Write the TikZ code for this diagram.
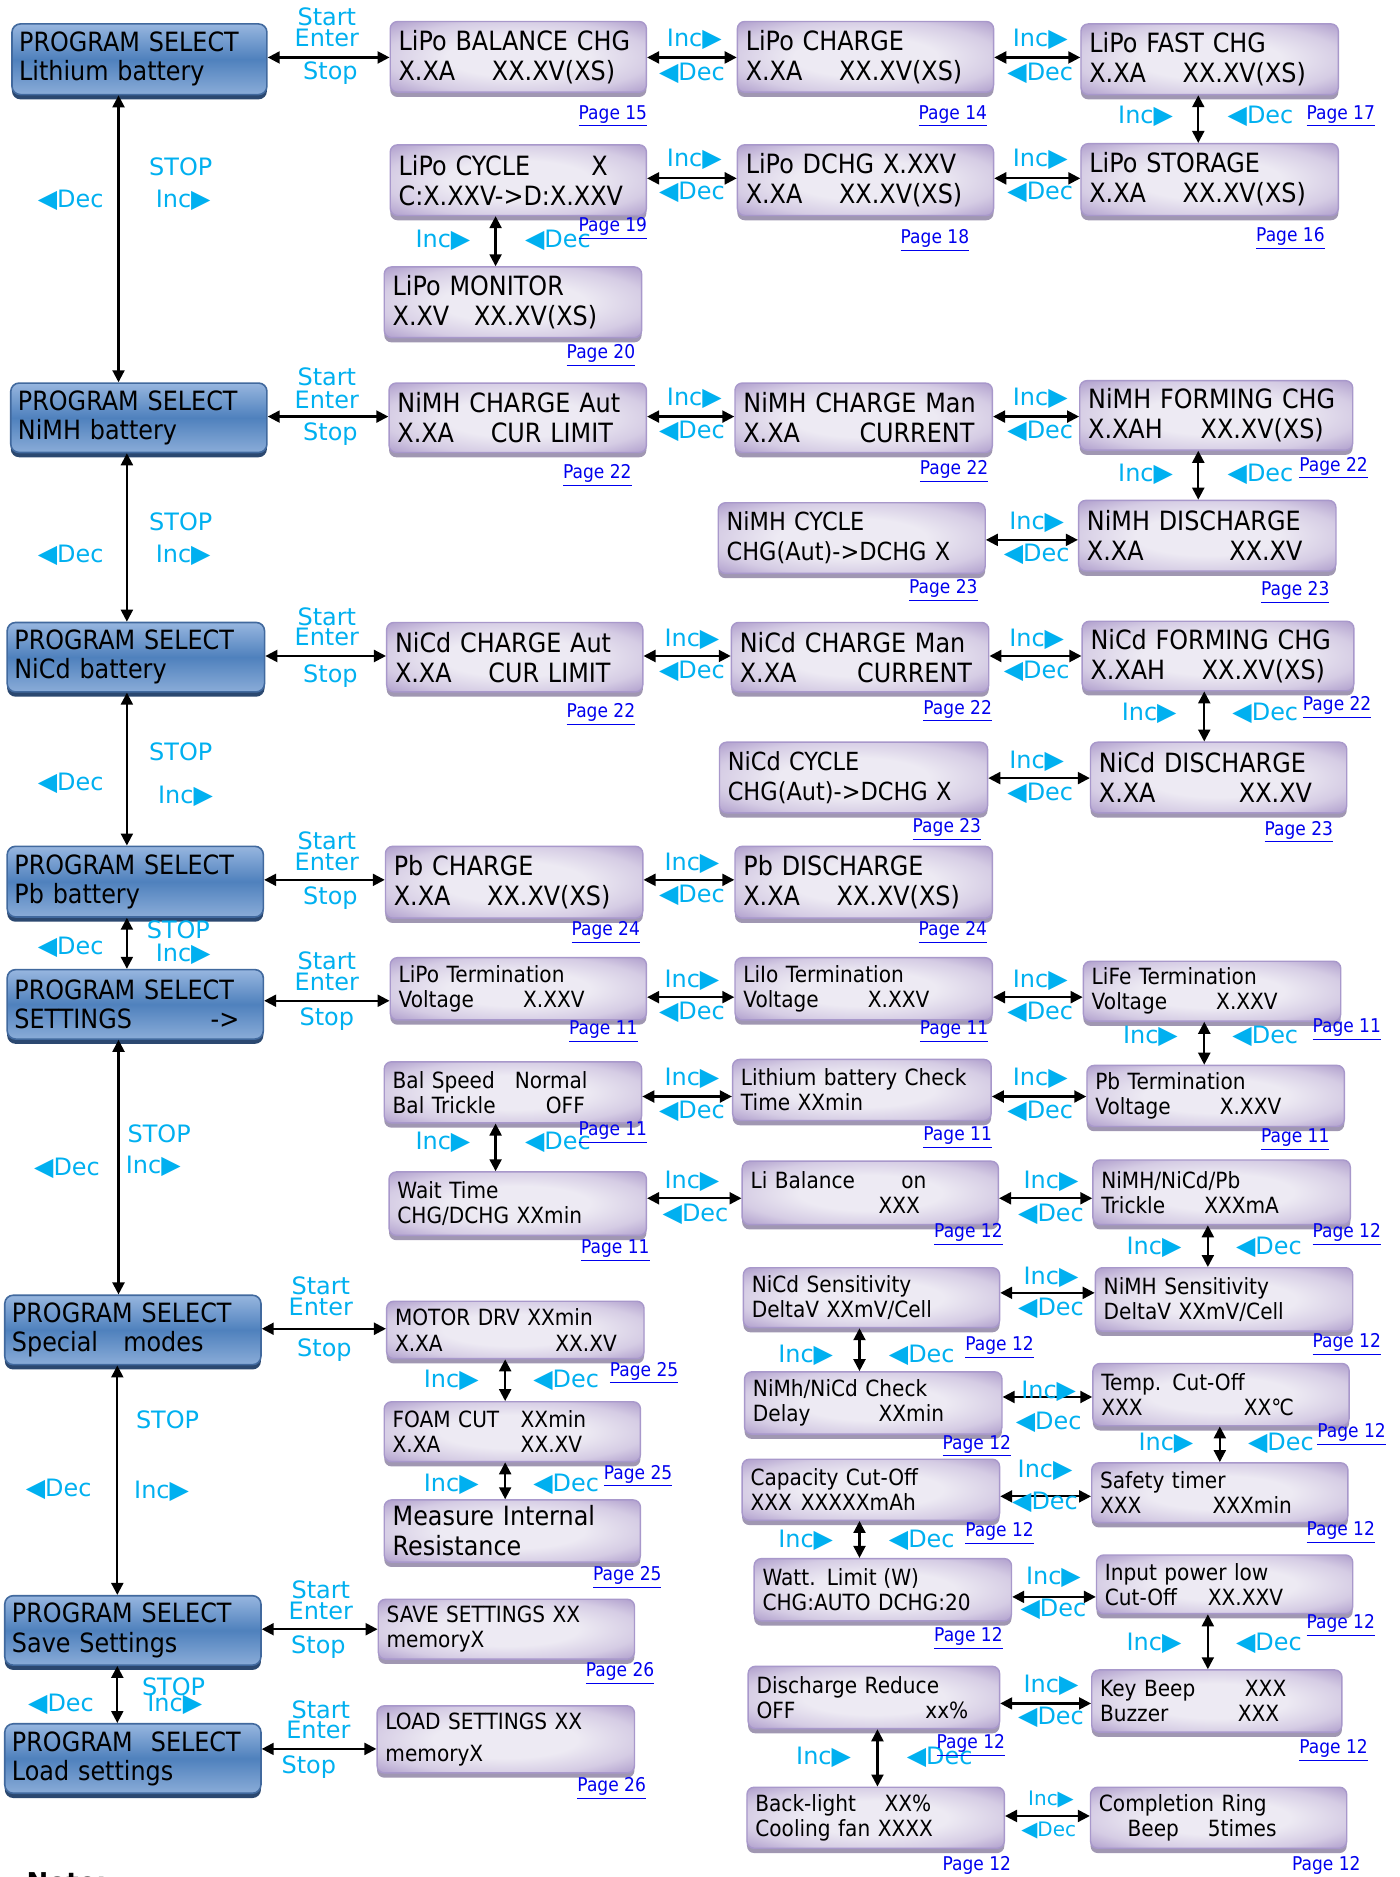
\documentclass[tikz,border=0pt]{standalone}
\usepackage{fontspec}
\setmainfont{DejaVu Sans}
\newfontfamily\boxfont{DejaVu Sans}[FakeStretch=0.9]
\usetikzlibrary{arrows.meta,shadows}

\definecolor{cyanl}{HTML}{00B0F0}
\definecolor{plink}{HTML}{0000EE}
\definecolor{pl}{HTML}{EDEAF3}
\definecolor{pm}{HTML}{D5CCE4}
\definecolor{pd}{HTML}{A592C6}
\definecolor{pborder}{HTML}{A898CB}
\definecolor{pshadow}{HTML}{A097B2}
\definecolor{btop}{HTML}{97B6DF}
\definecolor{bmid}{HTML}{4F81BD}
\definecolor{bbot}{HTML}{8AACD8}
\definecolor{bborder}{HTML}{41699E}
\definecolor{bshadow}{HTML}{2B4870}

\pgfdeclareradialshading{pshade}{\pgfpoint{0bp}{0bp}}{color(0bp)=(pl); color(14bp)=(pl); color(26bp)=(pm); color(38bp)=(pd); color(50bp)=(pd)}

\newdimen\pxu \pxu=0.6pt
\newcommand\cl[2]{\makebox[#1\pxu][l]{#2}}
\newcommand\rtri{\scalebox{1.05}{▶}}
\newcommand\ltri{\scalebox{1.05}{◀}}
\newcommand\INC{Inc\rtri}
\newcommand\DEC{\ltri Dec}

\tikzset{
  pbox/.style={shade, shading=pshade, draw=pborder, line width=0.7pt, rounded corners=3.6pt,
    inner xsep=4.2pt, inner ysep=0pt, align=left,
    font=\boxfont\fontsize{13.3}{15}\selectfont,
    drop shadow={shadow xshift=0pt, shadow yshift=-2.4pt, fill=pshadow, opacity=1}},
  psmall/.style={font=\boxfont\fontsize{11.2}{12.6}\selectfont},
  pcyc/.style={font=\boxfont\fontsize{12.5}{15}\selectfont},
  bbox/.style={top color=btop, bottom color=bbot, middle color=bmid, draw=bborder, line width=0.8pt,
    rounded corners=4.2pt, inner xsep=3.6pt, inner ysep=0pt, align=left,
    font=\boxfont\fontsize{13.3}{14.6}\selectfont,
    drop shadow={shadow xshift=0pt, shadow yshift=-2.4pt, fill=bshadow, opacity=1}},
  lbl/.style={text=cyanl, font=\fontsize{12}{12}\selectfont, inner sep=0pt},
  lbls/.style={text=cyanl, font=\fontsize{10}{10}\selectfont, inner sep=0pt},
  pglink/.style={text=plink, font=\boxfont\fontsize{9.5}{10}\selectfont, inner sep=0pt},
  dbl/.style={{Triangle[length=6pt,width=6pt]}-{Triangle[length=6pt,width=6pt]}, line width=1.1pt, black},
}

% purple box: name, x1, y1, x2, y2 (y2 includes shadow strip)
\newcommand\pbx[7][]{%
  \pgfmathsetlengthmacro\bw{(#5-#3)*0.6pt}%
  \pgfmathsetlengthmacro\bh{(#6-#4-4)*0.6pt}%
  \pgfmathsetlengthmacro\tw{(#5-#3)*0.6pt-8.4pt}%
  \node[pbox,#1,minimum width=\bw,minimum height=\bh,text width=\tw] (#2) at ({(#3+#5)/2},{(#4+#6-4)/2}) {#7};}
\newcommand\bbx[6]{%
  \pgfmathsetlengthmacro\bw{(#4-#2)*0.6pt}%
  \pgfmathsetlengthmacro\bh{(#5-#3-4)*0.6pt}%
  \pgfmathsetlengthmacro\tw{(#4-#2)*0.6pt-7.2pt}%
  \node[bbox,minimum width=\bw,minimum height=\bh,text width=\tw] (#1) at ({(#2+#4)/2},{(#3+#5-4)/2}) {#6};}
\newcounter{lbc}
\newcommand\lb[4][lbl]{\stepcounter{lbc}\node[#1] (lb\arabic{lbc}) at (#2,#3) {#4};}
\newcommand\pg[3]{\stepcounter{lbc}\node[pglink] (pg\arabic{lbc}) at (#1,#2) {\underline{Page #3}};}

\begin{document}
\begin{tikzpicture}[x=0.6pt,y=-0.6pt]
\path[use as bounding box, fill=white] (0,0) rectangle (1169,1568);

% ---------- blue program select boxes
\bbx{b1}{10}{20}{223}{83}{PROGRAM SELECT\\Lithium battery}
\bbx{b2}{9}{320}{223}{382}{PROGRAM SELECT\\NiMH battery}
\bbx{b3}{6}{520}{221}{582}{PROGRAM SELECT\\NiCd battery}
\bbx{b4}{6}{707}{220}{770}{PROGRAM SELECT\\Pb battery}
\bbx{b5}{6}{810}{220}{872}{PROGRAM SELECT\\\cl{164}{SETTINGS}->}
\bbx{b6}{4}{1082}{218}{1144}{PROGRAM SELECT\\\cl{93}{Special}modes}
\bbx{b7}{4}{1333}{218}{1395}{PROGRAM SELECT\\Save Settings}
\bbx{b8}{4}{1440}{218}{1502}{\cl{116}{PROGRAM}SELECT\\Load settings}

% ---------- lithium
\pbx{p1}{326}{18}{540}{81}{LiPo BALANCE CHG\\\cl{78}{X.XA}XX.XV(XS)}
\pbx{p2}{616}{18}{830}{81}{LiPo CHARGE\\\cl{78}{X.XA}XX.XV(XS)}
\pbx{p3}{903}{20}{1118}{83}{LiPo FAST CHG\\\cl{78}{X.XA}XX.XV(XS)}
\pbx{p4}{326}{121}{540}{184}{\cl{161}{LiPo CYCLE}X\\C:X.XXV->D:X.XXV}
\pbx{p5}{616}{121}{830}{184}{LiPo DCHG X.XXV\\\cl{78}{X.XA}XX.XV(XS)}
\pbx{p6}{903}{120}{1118}{184}{LiPo STORAGE\\\cl{78}{X.XA}XX.XV(XS)}
\pbx{p7}{321}{223}{536}{286}{LiPo MONITOR\\\cl{68}{X.XV}XX.XV(XS)}
% ---------- NiMH
\pbx{p8}{325}{320}{540}{382}{NiMH CHARGE Aut\\\cl{78}{X.XA}CUR LIMIT}
\pbx{p9}{614}{320}{829}{382}{NiMH CHARGE Man\\\cl{97}{X.XA}CURRENT}
\pbx{p10}{902}{318}{1130}{380}{NiMH FORMING CHG\\\cl{94}{X.XAH}XX.XV(XS)}
\pbx{p11}{901}{418}{1116}{481}{NiMH DISCHARGE\\\cl{119}{X.XA}XX.XV}
\pbx[pcyc]{p12}{600}{420}{823}{483}{NiMH CYCLE\\CHG(Aut)->DCHG X}
% ---------- NiCd
\pbx{p13}{323}{520}{537}{582}{NiCd CHARGE Aut\\\cl{78}{X.XA}CUR LIMIT}
\pbx{p14}{611}{520}{826}{582}{NiCd CHARGE Man\\\cl{98}{X.XA}CURRENT}
\pbx{p15}{904}{519}{1131}{581}{NiCd FORMING CHG\\\cl{93}{X.XAH}XX.XV(XS)}
\pbx{p16}{911}{620}{1125}{683}{NiCd DISCHARGE\\\cl{117}{X.XA}XX.XV}
\pbx[pcyc]{p17}{601}{620}{825}{683}{NiCd CYCLE\\CHG(Aut)->DCHG X}
% ---------- Pb
\pbx{p18}{322}{707}{537}{771}{Pb CHARGE\\\cl{78}{X.XA}XX.XV(XS)}
\pbx{p19}{614}{707}{829}{771}{Pb DISCHARGE\\\cl{78}{X.XA}XX.XV(XS)}
% ---------- settings
\pbx[psmall]{p20}{326}{800}{540}{856}{LiPo Termination\\\cl{104}{Voltage}X.XXV}
\pbx[psmall]{p21}{614}{800}{829}{856}{LiIo Termination\\\cl{104}{Voltage}X.XXV}
\pbx[psmall]{p22}{905}{803}{1120}{857}{LiFe Termination\\\cl{104}{Voltage}X.XXV}
\pbx[psmall]{p23}{908}{890}{1123}{945}{Pb Termination\\\cl{104}{Voltage}X.XXV}
\pbx[psmall]{p24}{612}{885}{828}{940}{Lithium battery Check\\Time XXmin}
\pbx[psmall]{p25}{321}{887}{536}{942}{\cl{102}{Bal Speed}Normal\\\cl{128}{Bal Trickle}OFF}
\pbx[psmall]{p26}{325}{979}{540}{1036}{Wait Time\\CHG/DCHG XXmin}
\pbx[psmall]{p27}{620}{970}{834}{1027}{\cl{126}{Li Balance}on\\\hspace*{107\pxu}XXX}
\pbx[psmall]{p28}{913}{969}{1128}{1027}{NiMH/NiCd/Pb\\\cl{86}{Trickle}XXXmA}
\pbx[psmall]{p29}{915}{1059}{1130}{1116}{NiMH Sensitivity\\DeltaV XXmV/Cell}
\pbx[psmall]{p30}{621}{1059}{835}{1113}{NiCd Sensitivity\\DeltaV XXmV/Cell}
\pbx[psmall]{p31}{622}{1146}{837}{1202}{NiMh/NiCd Check\\\cl{105}{Delay}XXmin}
\pbx[psmall]{p32}{913}{1139}{1127}{1195}{Temp. Cut-Off\\\cl{119}{XXX}XX℃}
\pbx[psmall]{p33}{912}{1222}{1126}{1276}{Safety timer\\\cl{94}{XXX}XXXmin}
\pbx[psmall]{p34}{620}{1219}{835}{1274}{Capacity Cut-Off\\\cl{42}{XXX}XXXXXmAh}
\pbx[psmall]{p35}{630}{1302}{845}{1358}{\cl{101}{Watt. Limit}(W)\\CHG:AUTO DCHG:20}
\pbx[psmall]{p36}{916}{1299}{1130}{1352}{Input power low\\\cl{86}{Cut-Off}XX.XXV}
\pbx[psmall]{p37}{912}{1395}{1121}{1451}{\cl{121}{Key Beep}XXX\\\cl{115}{Buzzer}XXX}
\pbx[psmall]{p38}{625}{1392}{835}{1448}{Discharge Reduce\\\cl{141}{OFF}xx\%}
\pbx[psmall]{p39}{624}{1493}{839}{1548}{\cl{108}{Back-light}XX\%\\Cooling fan XXXX}
\pbx[psmall]{p40}{911}{1493}{1125}{1548}{Completion Ring\\\hspace*{24\pxu}\cl{67}{Beep}5times}
% ---------- special / save / load
\pbx[psmall]{p41}{323}{1087}{538}{1139}{MOTOR DRV XXmin\\\cl{134}{X.XA}XX.XV}
\pbx[psmall]{p42}{321}{1171}{535}{1225}{\cl{107}{FOAM CUT}XXmin\\\cl{107}{X.XA}XX.XV}
\pbx{p43}{321}{1253}{535}{1309}{Measure Internal\\Resistance}
\pbx[psmall]{p44}{316}{1336}{530}{1390}{SAVE SETTINGS XX\\memoryX}
\pbx[psmall]{p45}{315}{1425}{530}{1485}{LOAD SETTINGS XX\\[3.6pt]memoryX}

\node[anchor=north west, inner sep=0pt, font=\bfseries\fontsize{13}{13}\selectfont] (note) at (22,1564) {Note:};

% ---------- connectors
\draw[dbl] (b1.east |- 0,48) -- (p1.west |- 0,48);
\draw[dbl] (p1.east |- 0,48) -- (p2.west |- 0,48);
\draw[dbl] (p2.east |- 0,48) -- (p3.west |- 0,48);
\draw[dbl] (p3.south -| 1001,0) -- (p6.north -| 1001,0);
\draw[dbl] (p6.west |- 0,149) -- (p5.east |- 0,149);
\draw[dbl] (p5.west |- 0,149) -- (p4.east |- 0,149);
\draw[dbl] (p4.south -| 414,0) -- (p7.north -| 414,0);
\draw[dbl] (b1.south -| 99,0) -- (b2.north -| 99,0);

\draw[dbl] (b2.east |- 0,348) -- (p8.west |- 0,348);
\draw[dbl] (p8.east |- 0,348) -- (p9.west |- 0,348);
\draw[dbl] (p9.east |- 0,348) -- (p10.west |- 0,348);
\draw[dbl] (p10.south -| 1001,0) -- (p11.north -| 1001,0);
\draw[dbl] (p11.west |- 0,451) -- (p12.east |- 0,451);
\draw[dbl] (b2.south -| 106,0) -- (b3.north -| 106,0);

\draw[dbl] (b3.east |- 0,548) -- (p13.west |- 0,548);
\draw[dbl] (p13.east |- 0,548) -- (p14.west |- 0,548);
\draw[dbl] (p14.east |- 0,548) -- (p15.west |- 0,548);
\draw[dbl] (p15.south -| 1006,0) -- (p16.north -| 1006,0);
\draw[dbl] (p16.west |- 0,650) -- (p17.east |- 0,650);
\draw[dbl] (b3.south -| 106,0) -- (b4.north -| 106,0);

\draw[dbl] (b4.east |- 0,735) -- (p18.west |- 0,735);
\draw[dbl] (p18.east |- 0,735) -- (p19.west |- 0,735);
\draw[dbl] (b4.south -| 106,0) -- (b5.north -| 106,0);

\draw[dbl] (b5.east |- 0,836) -- (p20.west |- 0,836);
\draw[dbl] (p20.east |- 0,833) -- (p21.west |- 0,833);
\draw[dbl] (p21.east |- 0,833) -- (p22.west |- 0,833);
\draw[dbl] (p22.south -| 1006,0) -- (p23.north -| 1006,0);
\draw[dbl] (p23.west |- 0,916) -- (p24.east |- 0,916);
\draw[dbl] (p24.west |- 0,916) -- (p25.east |- 0,916);
\draw[dbl] (p25.south -| 414,0) -- (p26.north -| 414,0);
\draw[dbl] (p26.east |- 0,1001) -- (p27.west |- 0,1001);
\draw[dbl] (p27.east |- 0,1001) -- (p28.west |- 0,1001);
\draw[dbl] (p28.south -| 1009,0) -- (p29.north -| 1009,0);
\draw[dbl] (p29.west |- 0,1080) -- (p30.east |- 0,1080);
\draw[dbl] (p30.south -| 718,0) -- (p31.north -| 718,0);
\draw[dbl] (p31.east |- 0,1167) -- (p32.west |- 0,1167);
\draw[dbl] (p32.south -| 1019,0) -- (p33.north -| 1019,0);
\draw[dbl] (p33.west |- 0,1250) -- (p34.east |- 0,1250);
\draw[dbl] (p34.south -| 718,0) -- (p35.north -| 718,0);
\draw[dbl] (p35.east |- 0,1334) -- (p36.west |- 0,1334);
\draw[dbl] (p36.south -| 1009,0) -- (p37.north -| 1009,0);
\draw[dbl] (p37.west |- 0,1423) -- (p38.east |- 0,1423);
\draw[dbl] (p38.south -| 733,0) -- (p39.north -| 733,0);
\draw[dbl] (p39.east |- 0,1517) -- (p40.west |- 0,1517);
\draw[dbl] (b5.south -| 99,0) -- (b6.north -| 99,0);

\draw[dbl] (b6.east |- 0,1110) -- (p41.west |- 0,1110);
\draw[dbl] (p41.south -| 422,0) -- (p42.north -| 422,0);
\draw[dbl] (p42.south -| 422,0) -- (p43.north -| 422,0);
\draw[dbl] (b6.south -| 98,0) -- (b7.north -| 98,0);
\draw[dbl] (b7.east |- 0,1361) -- (p44.west |- 0,1361);
\draw[dbl] (b7.south -| 98,0) -- (b8.north -| 98,0);
\draw[dbl] (b8.east |- 0,1461) -- (p45.west |- 0,1461);

% ---------- labels
\lb{273}{14}{Start}\lb{273}{32}{Enter}\lb{276}{61}{Stop}
\lb{580}{33}{\INC}\lb{578}{61}{\DEC}
\lb{869}{33}{\INC}\lb{869}{61}{\DEC}
\lb{957}{97}{\INC}\lb{1053}{97}{\DEC}
\lb{869}{133}{\INC}\lb{869}{161}{\DEC}
\lb{580}{133}{\INC}\lb{578}{161}{\DEC}
\lb{370}{201}{\INC}\lb{466}{201}{\DEC}
\lb{151}{139}{STOP}\lb{59}{167}{\DEC}\lb{153}{167}{\INC}
\pg{512}{97}{15}\pg{796}{97}{14}\pg{1120}{97}{17}\pg{512}{191}{19}\pg{781}{201}{18}\pg{1078}{199}{16}\pg{502}{297}{20}

\lb{273}{315}{Start}\lb{273}{334}{Enter}\lb{276}{363}{Stop}
\lb{580}{333}{\INC}\lb{578}{360}{\DEC}
\lb{869}{333}{\INC}\lb{869}{360}{\DEC}
\lb{957}{396}{\INC}\lb{1053}{396}{\DEC}
\lb{866}{436}{\INC}\lb{866}{463}{\DEC}
\lb{151}{436}{STOP}\lb{59}{464}{\DEC}\lb{153}{464}{\INC}
\pg{499}{397}{22}\pg{797}{394}{22}\pg{1114}{391}{22}\pg{1082}{495}{23}\pg{788}{493}{23}

\lb{273}{515}{Start}\lb{273}{532}{Enter}\lb{276}{565}{Stop}
\lb{578}{534}{\INC}\lb{578}{561}{\DEC}
\lb{866}{534}{\INC}\lb{866}{561}{\DEC}
\lb{960}{596}{\INC}\lb{1057}{596}{\DEC}
\lb{866}{636}{\INC}\lb{869}{663}{\DEC}
\lb{151}{628}{STOP}\lb{59}{654}{\DEC}\lb{155}{665}{\INC}
\pg{502}{597}{22}\pg{800}{594}{22}\pg{1117}{591}{22}\pg{1085}{695}{23}\pg{791}{693}{23}

\lb{273}{702}{Start}\lb{273}{720}{Enter}\lb{276}{750}{Stop}
\lb{578}{721}{\INC}\lb{578}{748}{\DEC}
\lb{149}{777}{STOP}\lb{59}{791}{\DEC}\lb{153}{797}{\INC}
\pg{506}{779}{24}\pg{796}{779}{24}

\lb{273}{803}{Start}\lb{273}{820}{Enter}\lb{273}{851}{Stop}
\lb{578}{819}{\INC}\lb{578}{846}{\DEC}
\lb{869}{819}{\INC}\lb{869}{846}{\DEC}
\lb{961}{866}{\INC}\lb{1057}{866}{\DEC}
\lb{869}{901}{\INC}\lb{869}{928}{\DEC}
\lb{578}{901}{\INC}\lb{578}{928}{\DEC}
\lb{370}{954}{\INC}\lb{466}{954}{\DEC}
\lb{578}{987}{\INC}\lb{581}{1014}{\DEC}
\lb{878}{987}{\INC}\lb{878}{1014}{\DEC}
\lb{964}{1042}{\INC}\lb{1060}{1042}{\DEC}
\lb{878}{1067}{\INC}\lb{878}{1093}{\DEC}
\lb{673}{1132}{\INC}\lb{770}{1132}{\DEC}
\lb{876}{1162}{\INC}\lb{876}{1188}{\DEC}
\lb{974}{1206}{\INC}\lb{1070}{1206}{\DEC}
\lb{873}{1228}{\INC}\lb{873}{1255}{\DEC}
\lb{673}{1287}{\INC}\lb{770}{1287}{\DEC}
\lb{880}{1318}{\INC}\lb{880}{1344}{\DEC}
\lb{964}{1373}{\INC}\lb{1060}{1373}{\DEC}
\lb{878}{1408}{\INC}\lb{878}{1435}{\DEC}
\lb{688}{1468}{\INC}\lb{785}{1468}{\DEC}
\lb[lbls]{878}{1503}{\INC}\lb[lbls]{876}{1529}{\DEC}
\lb{133}{947}{STOP}\lb{56}{976}{\DEC}\lb{128}{974}{\INC}
\pg{504}{862}{11}\pg{797}{862}{11}\pg{1125}{860}{11}\pg{1082}{952}{11}\pg{800}{950}{11}\pg{512}{946}{11}\pg{514}{1045}{11}
\pg{809}{1031}{12}\pg{1125}{1031}{12}\pg{1125}{1123}{12}\pg{835}{1126}{12}\pg{816}{1208}{12}\pg{1129}{1198}{12}
\pg{1120}{1280}{12}\pg{835}{1281}{12}\pg{809}{1369}{12}\pg{1120}{1358}{12}\pg{1114}{1462}{12}\pg{811}{1458}{12}
\pg{816}{1560}{12}\pg{1108}{1560}{12}

\lb{268}{1074}{Start}\lb{268}{1092}{Enter}\lb{271}{1128}{Stop}
\lb{377}{1153}{\INC}\lb{473}{1153}{\DEC}
\lb{377}{1240}{\INC}\lb{473}{1240}{\DEC}
\lb{140}{1186}{STOP}\lb{49}{1244}{\DEC}\lb{135}{1246}{\INC}
\pg{538}{1147}{25}\pg{533}{1233}{25}\pg{524}{1318}{25}

\lb{268}{1328}{Start}\lb{268}{1346}{Enter}\lb{266}{1376}{Stop}
\lb{145}{1409}{STOP}\lb{51}{1424}{\DEC}\lb{146}{1424}{\INC}
\pg{518}{1398}{26}
\lb{268}{1428}{Start}\lb{266}{1445}{Enter}\lb{258}{1476}{Stop}
\pg{511}{1494}{26}
\end{tikzpicture}
\end{document}
